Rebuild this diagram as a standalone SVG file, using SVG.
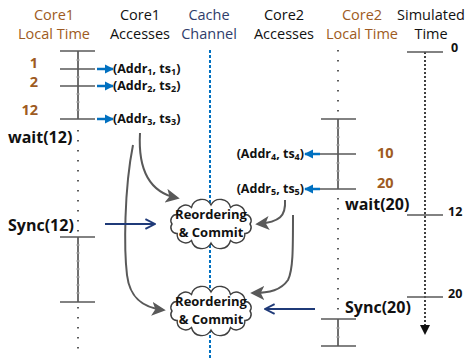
<svg xmlns="http://www.w3.org/2000/svg" width="467" height="358" viewBox="0 0 467 358">
  <style>
    text { font-family: "Open Sans", "Liberation Sans", sans-serif; }
    .hdr { font-size: 14.5px; text-anchor: middle; fill: #111; }
    .brown { fill: #9E5B22; }
    .navy { fill: #2F3D6B; }
    .num { font-size: 14.5px; font-weight: bold; fill: #9E5B22; }
    .lbl { font-size: 16px; font-weight: bold; fill: #111; }
    .acc { font-size: 12.5px; font-weight: bold; fill: #111; }
    .sim { font-size: 12.5px; font-weight: bold; fill: #111; }
    .cloudtxt { font-size: 13px; font-weight: bold; fill: #111; text-anchor: middle; }
    .tick { stroke: #595959; stroke-width: 1.5; }
    .axis { stroke: #404040; stroke-width: 1.5; }
    .minor { stroke: #b0b0b0; stroke-width: 1; }
    .dots { stroke: #333; stroke-width: 1.6; stroke-dasharray: 1.5 8.5; fill: none; }
    .blue { stroke: #0070C0; stroke-width: 2.5; fill: none; marker-end: url(#blueHead); }
    .gray { stroke: #595959; stroke-width: 2; fill: none; marker-end: url(#grayHead); }
    .sync { stroke: #1F3A78; stroke-width: 2; fill: none; marker-end: url(#navyHead); }
    .cloud { fill: #fff; stroke: #404040; stroke-width: 1.4; }
  </style>
  <defs>
    <marker id="blueHead" viewBox="0 0 10 10" refX="9" refY="5" markerWidth="9" markerHeight="11" orient="auto" markerUnits="userSpaceOnUse">
      <path d="M0,0 L10,5 L0,10 Z" fill="#0070C0"/>
    </marker>
    <marker id="grayHead" viewBox="0 0 10 10" refX="8" refY="5" markerWidth="14" markerHeight="14" orient="auto" markerUnits="userSpaceOnUse">
      <path d="M0,0 L10,5 L0,10 L2.5,5 Z" fill="#595959"/>
    </marker>
    <marker id="navyHead" viewBox="0 0 10 10" refX="9" refY="5" markerWidth="12" markerHeight="14" orient="auto" markerUnits="userSpaceOnUse">
      <path d="M1,1 L9,5 L1,9" fill="none" stroke="#1F3A78" stroke-width="1.6"/>
    </marker>
    <marker id="blackHead" viewBox="0 0 10 10" refX="5" refY="5" markerWidth="10" markerHeight="10" orient="auto" markerUnits="userSpaceOnUse">
      <path d="M0,0 L10,5 L0,10 Z" fill="#111"/>
    </marker>
    <path id="cloudShape" d="M39,0 A6,6 0 0 1 33.8,9.5 A8.5,8.5 0 0 1 19.5,16.5 A10.5,10.5 0 0 1 0,19 A10.5,10.5 0 0 1 -19.5,16.5 A8.5,8.5 0 0 1 -33.8,9.5 A6,6 0 0 1 -39,0 A6,6 0 0 1 -33.8,-9.5 A8.5,8.5 0 0 1 -19.5,-16.5 A10.5,10.5 0 0 1 0,-19 A10.5,10.5 0 0 1 19.5,-16.5 A8.5,8.5 0 0 1 33.8,-9.5 A6,6 0 0 1 39,0 Z"/>
  </defs>

  <rect width="467" height="358" fill="#fff"/>

  <!-- column headers -->
  <g id="headers">
    <text class="hdr brown" x="54" y="20">Core1</text>
    <text class="hdr brown" x="54" y="39">Local Time</text>
    <text class="hdr" x="140" y="20">Core1</text>
    <text class="hdr" x="140" y="39">Accesses</text>
    <text class="hdr navy" x="209" y="20">Cache</text>
    <text class="hdr navy" x="209" y="39">Channel</text>
    <text class="hdr" x="284" y="20">Core2</text>
    <text class="hdr" x="284" y="39">Accesses</text>
    <text class="hdr brown" x="362" y="20">Core2</text>
    <text class="hdr brown" x="362" y="39">Local Time</text>
    <text class="hdr" x="431" y="20">Simulated</text>
    <text class="hdr" x="431" y="39">Time</text>
  </g>

  <!-- cache channel -->
  <g id="cache-channel">
    <line x1="210" y1="50" x2="210" y2="358" stroke="#0070C0" stroke-width="2" stroke-dasharray="3 2"/>
  </g>

  <!-- core 1 local timeline -->
  <g id="core1-timeline">
    <line class="axis" x1="78" y1="51" x2="78" y2="119"/>
    <g class="minor">
      <line x1="76" y1="60" x2="80" y2="60"/><line x1="76" y1="77" x2="80" y2="77"/>
      <line x1="76" y1="94" x2="80" y2="94"/><line x1="76" y1="102" x2="80" y2="102"/>
      <line x1="76" y1="110" x2="80" y2="110"/>
    </g>
    <line class="tick" x1="60" y1="51" x2="95" y2="51"/>
    <line class="tick" x1="60" y1="69" x2="95" y2="69"/>
    <line class="tick" x1="60" y1="86" x2="95" y2="86" stroke-width="2"/>
    <line class="tick" x1="60" y1="119" x2="95" y2="119"/>
    <line class="dots" x1="78" y1="130" x2="78" y2="232"/>
    <line class="axis" x1="78" y1="237" x2="78" y2="302"/>
    <g class="minor">
      <line x1="76" y1="245" x2="80" y2="245"/><line x1="76" y1="253" x2="80" y2="253"/>
      <line x1="76" y1="261" x2="80" y2="261"/><line x1="76" y1="269" x2="80" y2="269"/>
      <line x1="76" y1="277" x2="80" y2="277"/><line x1="76" y1="285" x2="80" y2="285"/>
      <line x1="76" y1="293" x2="80" y2="293"/>
    </g>
    <line class="tick" x1="60" y1="237" x2="95" y2="237" stroke-width="2"/>
    <line class="tick" x1="60" y1="302" x2="95" y2="302"/>
    <line class="dots" x1="78" y1="307" x2="78" y2="350"/>
    <text class="num" x="38" y="68" text-anchor="end">1</text>
    <text class="num" x="38" y="87" text-anchor="end">2</text>
    <text class="num" x="38" y="115" text-anchor="end">12</text>
    <text class="lbl" x="8" y="143">wait(12)</text>
    <text class="lbl" x="8" y="231">Sync(12)</text>
  </g>

  <!-- core 1 accesses -->
  <g id="core1-accesses">
    <text class="acc" x="113" y="73">(Addr<tspan font-size="9" dy="2">1</tspan><tspan dy="-2">, ts</tspan><tspan font-size="9" dy="2">1</tspan><tspan dy="-2">)</tspan></text>
    <text class="acc" x="113" y="90">(Addr<tspan font-size="9" dy="2">2</tspan><tspan dy="-2">, ts</tspan><tspan font-size="9" dy="2">2</tspan><tspan dy="-2">)</tspan></text>
    <text class="acc" x="113" y="123">(Addr<tspan font-size="9" dy="2">3</tspan><tspan dy="-2">, ts</tspan><tspan font-size="9" dy="2">3</tspan><tspan dy="-2">)</tspan></text>
  </g>

  <!-- core 2 local timeline -->
  <g id="core2-timeline">
    <line class="dots" x1="338" y1="50" x2="338" y2="115"/>
    <line class="axis" x1="338" y1="119" x2="338" y2="189"/>
    <g class="minor">
      <line x1="336" y1="128" x2="340" y2="128"/><line x1="336" y1="137" x2="340" y2="137"/>
      <line x1="336" y1="145" x2="340" y2="145"/><line x1="336" y1="163" x2="340" y2="163"/>
      <line x1="336" y1="171" x2="340" y2="171"/><line x1="336" y1="180" x2="340" y2="180"/>
    </g>
    <line class="tick" x1="321" y1="119" x2="356" y2="119"/>
    <line class="tick" x1="320" y1="154" x2="356" y2="154"/>
    <line class="tick" x1="320" y1="189" x2="356" y2="189"/>
    <line class="dots" x1="338" y1="198" x2="338" y2="315"/>
    <line class="axis" x1="338" y1="319" x2="338" y2="346"/>
    <g class="minor">
      <line x1="336" y1="328" x2="340" y2="328"/><line x1="336" y1="337" x2="340" y2="337"/>
    </g>
    <line class="tick" x1="321" y1="319" x2="356" y2="319"/>
    <line class="tick" x1="321" y1="346" x2="356" y2="346"/>
    <text class="num" x="377" y="158">10</text>
    <text class="num" x="377" y="188">20</text>
    <text class="lbl" x="345" y="210">wait(20)</text>
    <text class="lbl" x="345" y="313">Sync(20)</text>
  </g>

  <!-- core 2 accesses -->
  <g id="core2-accesses">
    <text class="acc" x="304" y="158" text-anchor="end">(Addr<tspan font-size="9" dy="2">4</tspan><tspan dy="-2">, ts</tspan><tspan font-size="9" dy="2">4</tspan><tspan dy="-2">)</tspan></text>
    <text class="acc" x="304" y="193" text-anchor="end">(Addr<tspan font-size="9" dy="2">5</tspan><tspan dy="-2">, ts</tspan><tspan font-size="9" dy="2">5</tspan><tspan dy="-2">)</tspan></text>
  </g>

  <!-- simulated time axis -->
  <g id="simulated-time">
    <line x1="425" y1="52" x2="425" y2="330" stroke="#111" stroke-width="1.6" stroke-dasharray="2 2" marker-end="url(#blackHead)"/>
    <line class="tick" x1="407" y1="52" x2="443" y2="52" stroke-width="2"/>
    <line class="tick" x1="407" y1="215" x2="443" y2="215" stroke-width="2"/>
    <line class="tick" x1="407" y1="297" x2="443" y2="297" stroke-width="2"/>
    <text class="sim" x="451" y="52">0</text>
    <text class="sim" x="448" y="216">12</text>
    <text class="sim" x="448" y="298">20</text>
  </g>

  <!-- reorder/commit clouds -->
  <g id="commit-1">
    <use href="#cloudShape" class="cloud" transform="translate(211,224)"/>
    <text class="cloudtxt" x="211" y="219">Reordering</text>
    <text class="cloudtxt" x="211" y="237">&amp; Commit</text>
  </g>
  <g id="commit-2">
    <use href="#cloudShape" class="cloud" transform="translate(211,311)"/>
    <text class="cloudtxt" x="211" y="306">Reordering</text>
    <text class="cloudtxt" x="211" y="324">&amp; Commit</text>
  </g>

  <!-- connectors -->
  <g id="connectors">
    <line class="blue" x1="97" y1="69" x2="113" y2="69"/>
    <line class="blue" x1="97" y1="86" x2="113" y2="86"/>
    <line class="blue" x1="97" y1="119" x2="113" y2="119"/>
    <line class="blue" x1="320" y1="154" x2="305" y2="154"/>
    <line class="blue" x1="320" y1="189" x2="305" y2="189"/>
    <path class="gray" d="M140,133 C138,168 148,192 177,198"/>
    <path class="gray" d="M285,200 C286,216 280,222 258,224"/>
    <path class="gray" d="M133,145 C124,190 124,250 127,275 C130,300 145,308 163,310"/>
    <path class="gray" d="M293,215 C293,250 293,270 288,280 C281,290 270,293 253,293"/>
    <line class="sync" x1="105" y1="224" x2="155" y2="224"/>
    <line class="sync" x1="315" y1="309" x2="265" y2="309"/>
  </g>
</svg>
